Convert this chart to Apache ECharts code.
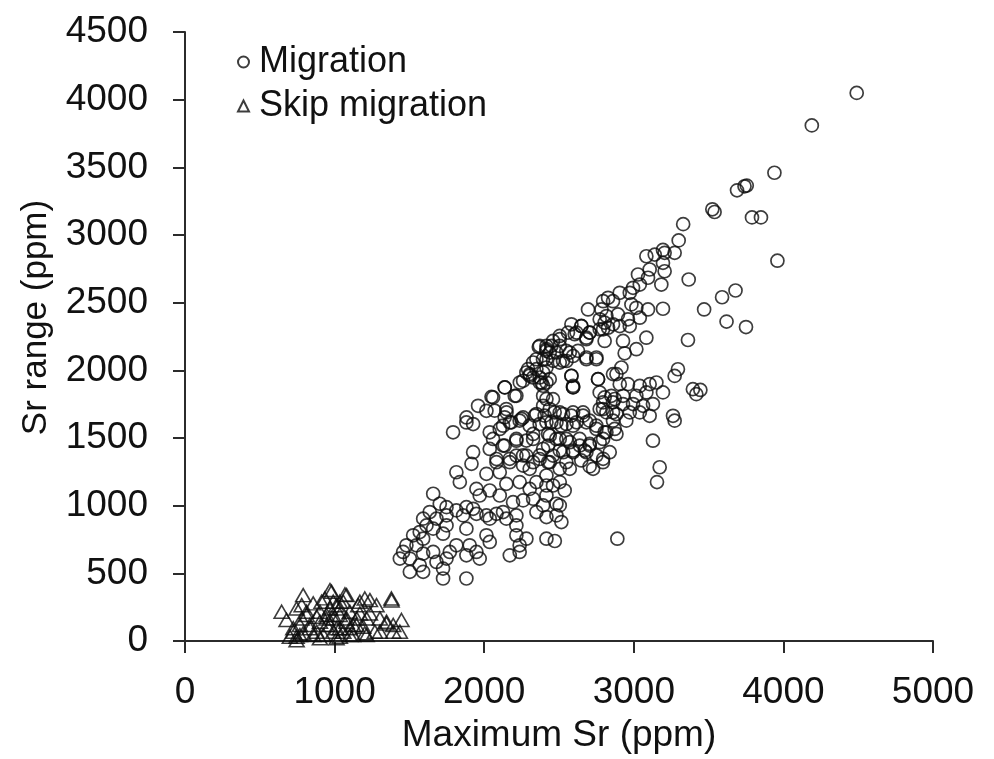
<!DOCTYPE html>
<html>
<head>
<meta charset="utf-8">
<title>Sr range vs maximum Sr</title>
<script src="https://cdn.jsdelivr.net/npm/echarts@6/dist/echarts.min.js"></script>
<style>
html,body{margin:0;padding:0;background:#fff;}
#chart{width:994px;height:759px;}
</style>
</head>
<body>
<div id="chart"></div>
<script>
// axis ticks
var xTicks = [0, 1000, 2000, 3000, 4000, 5000];
var yTicks = [0, 500, 1000, 1500, 2000, 2500, 3000, 3500, 4000, 4500];

// [maximum Sr, Sr range] for migrating fish
var migration = [
  // upper right tail
  [4490,4050],[4190,3810],[3940,3460],[3690,3330],[3740,3360],[3755,3365],[3525,3190],[3540,3170],
  [3790,3130],[3850,3130],[3960,2810],[3680,2590],[3590,2540],[3470,2450],[3620,2360],[3750,2320],
  [3445,1855],[3330,3080],[3300,2960],[3195,2890],
  // upper band
  [3084,2843],[3140,2855],[3206,2868],[3273,2868],[3195,2794],[3106,2745],[3206,2732],[3028,2708],
  [3184,2634],[3095,2684],[3367,2671],[3040,2634],[2995,2610],[2973,2573],[2906,2573],[2828,2536],
  [2795,2511],[2861,2511],[2694,2450],[2784,2450],[2984,2487],[3017,2462],[3095,2450],[3195,2455],
  [3040,2389],[2961,2377],[2894,2413],[2817,2401],[2772,2377],[2906,2327],[2828,2315],[2795,2303],
  [2973,2327],[2583,2340],[2650,2327],[2617,2279],[2705,2279],[2683,2241],[3084,2241],[3362,2224],
  [2928,2217],[3017,2156],[2939,2126],[2505,2254],[2460,2217],[2416,2180],[2505,2180],[2438,2131],
  [2572,2131],[2683,2082],[2750,2082],[2416,2082],[2505,2057],[2594,2106],[2550,2069],[2917,2021],
  [2884,1972],[2761,1935],[2961,1898],[2906,1898],[3295,2008],[3273,1959],[2583,1959],[2594,1885],
  [2594,1875],[2394,1984],[2371,1910],[2416,1910],[2394,1812],[2460,1787],[2772,1837],[2850,1812],
  [2928,1812],[3040,1885],[3106,1898],[3151,1910],[3195,1837],[3084,1837],[3017,1812],[3395,1861],
  [3418,1824],[2795,1763],[2861,1763],[2928,1751],[2995,1751],[3062,1738],[3128,1751],[2817,1689],
  [2884,1677],[2973,1689],[3040,1689],[3106,1664],[3262,1664],[2772,1714],[2594,1689],[2661,1689],
  [2505,1689],[2438,1714],[2394,1738],
  [2365,2173],[2416,2156],[2349,2082],[2282,1984],[2305,1972],[2327,1947],[2383,1910],[2238,1910],
  [2138,1874],[2204,1812],[2049,1804],[1959,1738],[2015,1701],[2149,1689],[1882,1652],[2349,1677],
  [2260,1652],
  // dense core
  [2649,2328],[2705,2279],[2772,2303],[2805,2352],[2861,2340],[2805,2217],[2560,2279],[2605,2267],
  [2683,2230],[2505,2230],[2449,2181],[2371,2181],[2416,2144],[2482,2132],[2549,2144],[2627,2144],
  [2683,2095],[2750,2095],[2527,2070],[2460,2070],[2393,2082],[2327,2058],[2293,2009],[2349,2009],
  [2416,2021],[2304,1960],[2260,1923],[2371,1947],[2438,1935],[2393,1886],[2583,1960],[2594,1874],
  [2761,1935],[2861,1972],[2137,1874],[2215,1812],[2059,1800],[2416,1788],[2805,1800],[2872,1788],
  [2794,1714],[2861,1690],[2070,1702],[2148,1714],[2137,1653],[2249,1641],[2182,1616],[2104,1567],
  [2338,1665],[2404,1665],[2471,1690],[2527,1677],[2583,1665],[2661,1665],[2705,1628],[2449,1616],
  [2516,1591],[2594,1591],[2427,1530],[2327,1530],[2282,1481],[2215,1493],[2126,1444],[2059,1493],
  [2750,1567],[2805,1542],[2872,1567],[2482,1493],[2549,1493],[2638,1493],[2705,1456],[2772,1469],
  [2427,1444],[2505,1407],[2594,1407],[2672,1407],[2371,1371],[2750,1371],[2839,1395],[2171,1346],
  [2260,1371],[2327,1321],[2427,1321],[2549,1321],[2649,1334],[2794,1321],[2082,1321],
  // middle band
  [2416,1616],[2483,1616],[2550,1603],[2617,1616],[2683,1616],[2750,1591],[2817,1542],[2884,1530],
  [2795,1493],[2705,1444],[2639,1444],[2594,1395],[2572,1469],[2505,1493],[2438,1517],[2394,1419],
  [2460,1370],[2528,1395],[2683,1395],[2728,1272],[2795,1346],[2705,1290],[2572,1272],[2505,1272],
  [2438,1321],[2416,1223],[2505,1174],[2460,1149],[2538,1112],[2416,1075],[2483,1014],[2394,1002],
  [2505,1002],[2416,916],[2483,928],[2516,879],[2861,1628],[2950,1628],[3273,1628],[3128,1480],
  [3173,1284],[3155,1174],[2890,756],[2472,739],
  // lower left of the cloud
  [1881,1615],[1926,1603],[1792,1542],[2037,1542],[2126,1591],[2171,1615],[2237,1628],[2304,1591],
  [2371,1603],[1926,1395],[1915,1309],[1814,1247],[1837,1174],[2037,1419],[2082,1345],[2015,1235],
  [2104,1247],[2171,1321],[2215,1370],[2282,1370],[2260,1296],[2304,1272],[2371,1345],[2327,1493],
  [2215,1480],[2137,1444],[2349,1174],[2416,1149],[2148,1161],[2237,1174],[2304,1124],[2104,1075],
  [2037,1112],[1948,1124],[1970,1075],[1659,1088],[1703,1014],[1748,989],[1636,953],[1592,904],
  [1681,904],[1748,928],[1814,965],[1881,989],[1926,977],[1859,928],[1948,940],[2015,928],
  [2082,940],[2126,953],[2193,1026],[2260,1039],[2327,1051],[2349,953],[2215,928],[2148,904],
  [2037,904],[1881,830],[1748,854],[1725,793],[1659,830],[1614,854],[1569,805],[1525,781],
  [1592,756],[1547,707],[1480,707],[1458,658],[1436,609],[1503,609],[1592,646],[1569,560],
  [1592,511],[1503,511],[1659,658],[1681,584],[1748,609],[1725,535],[1770,658],[1814,707],
  [1903,707],[1881,633],[1948,658],[1970,609],[2015,781],[2037,732],[2215,781],[2282,756],
  [2215,854],[2237,707],[2171,633],[2237,658],[1881,462],[1725,462],[2416,756]
];

// [maximum Sr, Sr range] for skip-migrating fish
var skipMigration = [
  [646,216],[679,155],[790,339],[857,278],[980,364],[1080,339],[1158,265],[1202,314],
  [1280,265],[1380,314],[1447,155],[1436,69],[1303,69],[1347,130],[1213,167],[1202,57],
  [1124,118],[991,290],[1035,241],[902,216],[813,192],[780,265],[724,94],[701,32],
  [768,44],[880,69],[946,167],[1035,94],[1102,44],[1013,20],[902,20],[835,118],
  [969,118],[1080,167],[991,192],[935,315],[1058,290],[1236,204],[1392,118],[1146,118],
  [746,5],[969,376],[913,290],[1069,344],[1013,265],[1169,290],[1236,302],[1381,300],
  [1347,143],[1303,167],[1269,69],[1191,106],[1169,204],[1147,167],[746,241],[813,216],
  [768,118],[724,69],[835,94],[902,143],[947,192],[991,167],[1035,192],[1080,143],
  [1102,216],[1058,69],[991,69],[924,45],[857,45],[790,57],[947,118],[1013,94],
  [880,180],[780,167],[969,241],[1035,290],[1102,94],[1124,45],[746,32],[1035,32],
  [1214,45],[1392,69]
];

var font = '"Liberation Sans", Arial, sans-serif';
var ink = '#111';
var axisColor = '#2b2b2b';
var markColor = '#0d0d0d';

var chart = echarts.init(document.getElementById('chart'));

function axisBase(ticks) {
  return {
    type: 'value',
    min: ticks[0],
    max: ticks[ticks.length - 1],
    interval: ticks[1] - ticks[0],
    axisLine: {show: true, onZero: false, lineStyle: {color: axisColor, width: 2}},
    axisTick: {show: true, inside: false, length: 12, lineStyle: {color: axisColor, width: 2}},
    splitLine: {show: false},
    axisLabel: {
      color: ink, fontFamily: font, fontSize: 37,
      formatter: function (v) { return String(v); }
    }
  };
}

var xAxis = axisBase(xTicks);
xAxis.name = 'Maximum Sr (ppm)';
xAxis.nameLocation = 'middle';
xAxis.nameGap = 76;
xAxis.nameTextStyle = {color: ink, fontFamily: font, fontSize: 37};
xAxis.axisLabel.margin = 33;

var yAxis = axisBase(yTicks);
yAxis.name = 'Sr range (ppm)';
yAxis.nameLocation = 'middle';
yAxis.nameGap = 131;
yAxis.nameTextStyle = {color: ink, fontFamily: font, fontSize: 35, padding: [0, 0, 0, 38]};
yAxis.axisLabel.margin = 37;

chart.setOption({
  backgroundColor: '#fff',
  animation: false,
  grid: {left: 185, right: 61, top: 32, bottom: 116, containLabel: false},
  legend: {
    orient: 'vertical',
    left: 232,
    top: 39,
    itemWidth: 11,
    itemHeight: 11,
    itemGap: 8,
    textStyle: {color: ink, fontFamily: font, fontSize: 36, padding: [0, 0, 0, 5]},
    data: ['Migration', 'Skip migration']
  },
  xAxis: xAxis,
  yAxis: yAxis,
  series: [
    {
      name: 'Migration',
      type: 'scatter',
      symbol: 'circle',
      symbolSize: 13,
      itemStyle: {color: 'rgba(255,255,255,0)', borderColor: markColor, borderWidth: 1.7},
      data: migration
    },
    {
      name: 'Skip migration',
      type: 'scatter',
      symbol: 'triangle',
      symbolSize: [15, 13],
      itemStyle: {color: 'rgba(255,255,255,0)', borderColor: markColor, borderWidth: 1.6},
      data: skipMigration
    }
  ]
});
</script>
</body>
</html>
